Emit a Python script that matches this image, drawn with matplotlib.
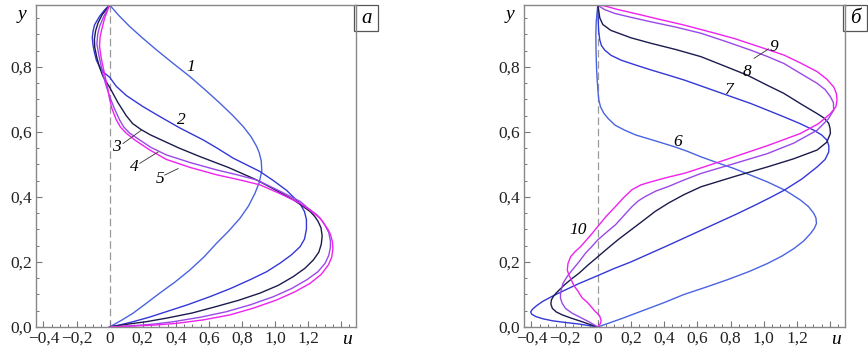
import matplotlib
matplotlib.use("Agg")
import matplotlib.pyplot as plt
from matplotlib.ticker import MultipleLocator, FuncFormatter
from matplotlib.patches import Rectangle
import matplotlib.transforms as mtransforms

plt.rcParams['font.family'] = ['Liberation Serif', 'DejaVu Serif']

# Panel a: velocity profiles u(y), curves 1-5
u1 = [0, 0.07, 0.141, 0.22, 0.303, 0.395, 0.485, 0.57, 0.646, 0.72, 0.788, 0.84, 0.879, 0.905, 0.92,
      0.917, 0.905, 0.889, 0.855, 0.808, 0.745, 0.667, 0.58, 0.485, 0.385, 0.283, 0.2, 0.121, 0.055, 0]
y1 = [0, 0.02, 0.042, 0.072, 0.104, 0.138, 0.175, 0.215, 0.257, 0.295, 0.334, 0.372, 0.411, 0.445, 0.48,
      0.51, 0.535, 0.555, 0.585, 0.616, 0.65, 0.688, 0.728, 0.77, 0.81, 0.852, 0.888, 0.924, 0.958, 0.99]

u2 = [0, 0.06, 0.141, 0.24, 0.343, 0.47, 0.606, 0.73, 0.848, 0.95, 1.03, 1.1, 1.152, 1.178, 1.19, 1.19,
      1.178, 1.15, 1.11, 1.07, 0.99, 0.909, 0.83, 0.747, 0.656, 0.566, 0.424, 0.3, 0.2, 0.1, 0.04,
      0, -0.035, -0.061, -0.08, -0.091, -0.1, -0.105, -0.1, -0.091, -0.061, -0.03, 0]
y2 = [0, 0.006, 0.016, 0.03, 0.047, 0.068, 0.093, 0.118, 0.145, 0.17, 0.196, 0.222, 0.247, 0.27, 0.3, 0.33,
      0.355, 0.38, 0.40, 0.42, 0.45, 0.478, 0.498, 0.519, 0.548, 0.575, 0.612, 0.648, 0.678, 0.712, 0.74,
      0.768, 0.782, 0.801, 0.82, 0.842, 0.865, 0.89, 0.91, 0.929, 0.955, 0.975, 0.99]

u3 = [0, 0.1, 0.22, 0.343, 0.5, 0.646, 0.78, 0.909, 1.02, 1.111, 1.18, 1.232, 1.265, 1.28, 1.285, 1.278,
      1.26, 1.24, 1.212, 1.16, 1.111, 1.0, 0.889, 0.72, 0.545, 0.42, 0.313, 0.245, 0.19, 0.14, 0.1, 0.05,
      0, -0.04, -0.062, -0.078, -0.09, -0.092, -0.085, -0.07, -0.045, 0]
y3 = [0, 0.008, 0.016, 0.027, 0.043, 0.063, 0.082, 0.104, 0.128, 0.155, 0.18, 0.206, 0.23, 0.255, 0.28, 0.305,
      0.325, 0.34, 0.355, 0.374, 0.391, 0.422, 0.452, 0.49, 0.524, 0.55, 0.575, 0.591, 0.607, 0.625, 0.65, 0.69,
      0.737, 0.77, 0.8, 0.83, 0.86, 0.885, 0.91, 0.935, 0.96, 0.99]

u4 = [0, 0.15, 0.27, 0.384, 0.55, 0.707, 0.85, 0.99, 1.1, 1.192, 1.26, 1.303, 1.325, 1.335, 1.335, 1.325,
      1.30, 1.28, 1.253, 1.2, 1.152, 1.02, 0.889, 0.77, 0.646, 0.49, 0.343, 0.25, 0.182, 0.121, 0.085, 0.06,
      0.03, 0, -0.02, -0.037, -0.05, -0.065, -0.077, -0.072, -0.06, -0.035, 0]
y4 = [0, 0.004, 0.009, 0.016, 0.03, 0.047, 0.068, 0.093, 0.118, 0.145, 0.17, 0.196, 0.22, 0.245, 0.265, 0.29,
      0.315, 0.33, 0.345, 0.365, 0.386, 0.42, 0.452, 0.468, 0.483, 0.505, 0.529, 0.552, 0.575, 0.596, 0.615, 0.637,
      0.67, 0.709, 0.74, 0.77, 0.80, 0.835, 0.87, 0.9, 0.925, 0.955, 0.99]

u5 = [0, 0.15, 0.28, 0.404, 0.57, 0.727, 0.87, 1.01, 1.12, 1.212, 1.28, 1.323, 1.343, 1.35, 1.347, 1.335,
      1.32, 1.273, 1.21, 1.152, 1.03, 0.909, 0.78, 0.646, 0.49, 0.343, 0.24, 0.152, 0.1, 0.065, 0.04, 0.015,
      0, -0.01, -0.025, -0.04, -0.052, -0.061, -0.058, -0.05, -0.03, 0]
y5 = [0, 0.003, 0.006, 0.011, 0.022, 0.037, 0.058, 0.083, 0.108, 0.134, 0.162, 0.191, 0.215, 0.24, 0.262, 0.285,
      0.30, 0.334, 0.36, 0.38, 0.41, 0.437, 0.453, 0.468, 0.49, 0.515, 0.545, 0.575, 0.596, 0.615, 0.637, 0.67,
      0.70, 0.73, 0.765, 0.80, 0.83, 0.863, 0.89, 0.91, 0.95, 0.99]

# Panel b: curves 6-10
u6 = [0, 0.14, 0.27, 0.4, 0.52, 0.65, 0.78, 0.91, 1.022, 1.11, 1.182, 1.24, 1.282, 1.305, 1.318, 1.315,
      1.302, 1.27, 1.222, 1.13, 1.022, 0.92, 0.822, 0.72, 0.622, 0.54, 0.462, 0.38, 0.302, 0.23, 0.162,
      0.105, 0.062, 0.035, 0.016, 0.006, 0.002, -0.004, -0.008, -0.011, -0.012, -0.01, -0.006, 0]
y6 = [0, 0.025, 0.05, 0.075, 0.1, 0.122, 0.145, 0.17, 0.195, 0.218, 0.241, 0.264, 0.287, 0.303, 0.318, 0.335,
      0.349, 0.37, 0.39, 0.42, 0.446, 0.467, 0.487, 0.505, 0.523, 0.54, 0.554, 0.567, 0.579, 0.59, 0.605,
      0.62, 0.641, 0.658, 0.677, 0.698, 0.718, 0.76, 0.8, 0.85, 0.9, 0.935, 0.96, 0.99]

u7 = [0, -0.114, -0.2, -0.274, -0.33, -0.374, -0.398, -0.405, -0.395, -0.37, -0.334, -0.28, -0.22, -0.12,
      0, 0.1, 0.2, 0.31, 0.42, 0.57, 0.72, 0.84, 0.95, 1.04, 1.122, 1.23, 1.322, 1.37, 1.392, 1.393, 1.382,
      1.35, 1.302, 1.22, 1.122, 1.02, 0.922, 0.822, 0.722, 0.622, 0.522, 0.42, 0.322, 0.23, 0.142, 0.08,
      0.042, 0.022, 0.012, 0.005, 0.002, 0]
y7 = [0, 0.009, 0.014, 0.019, 0.025, 0.032, 0.039, 0.046, 0.054, 0.065, 0.078, 0.093, 0.108, 0.132,
      0.158, 0.18, 0.2, 0.225, 0.25, 0.285, 0.32, 0.348, 0.375, 0.398, 0.42, 0.455, 0.492, 0.515, 0.538, 0.556, 0.574,
      0.59, 0.605, 0.625, 0.646, 0.667, 0.687, 0.705, 0.723, 0.741, 0.759, 0.775, 0.79, 0.805, 0.82, 0.835,
      0.851, 0.865, 0.882, 0.91, 0.944, 0.99]

u8 = [0, -0.05, -0.094, -0.16, -0.214, -0.25, -0.274, -0.283, -0.28, -0.268, -0.25, -0.2, -0.16, -0.114,
      -0.06, 0, 0.06, 0.126, 0.196, 0.266, 0.345, 0.426, 0.52, 0.622, 0.82, 1.022, 1.18, 1.322, 1.38, 1.402,
      1.4, 1.392, 1.365, 1.322, 1.22, 1.122, 1.01, 0.902, 0.76, 0.622, 0.47, 0.322, 0.2, 0.078, 0.03, 0.012, 0]
y8 = [0, 0.008, 0.016, 0.027, 0.037, 0.046, 0.057, 0.07, 0.083, 0.094, 0.105, 0.13, 0.147, 0.165,
      0.19, 0.216, 0.242, 0.27, 0.297, 0.324, 0.355, 0.381, 0.407, 0.431, 0.462, 0.492, 0.517, 0.544, 0.568, 0.595,
      0.61, 0.626, 0.642, 0.656, 0.687, 0.718, 0.746, 0.774, 0.803, 0.831, 0.853, 0.872, 0.889, 0.912, 0.93, 0.95, 0.99]

u9 = [0, -0.054, -0.1, -0.154, -0.195, -0.215, -0.225, -0.225, -0.22, -0.21, -0.185, -0.154, -0.114, -0.074,
      -0.035, 0, 0.05, 0.106, 0.156, 0.206, 0.245, 0.286, 0.35, 0.426, 0.52, 0.622, 0.82, 1.022, 1.18, 1.322,
      1.39, 1.422, 1.42, 1.402, 1.37, 1.322, 1.22, 1.122, 1.02, 0.922, 0.77, 0.622, 0.47, 0.322, 0.2, 0.102,
      0.04, 0.012, 0]
y9 = [0, 0.016, 0.028, 0.042, 0.057, 0.073, 0.088, 0.1, 0.115, 0.134, 0.155, 0.175, 0.2, 0.227,
      0.248, 0.268, 0.29, 0.314, 0.342, 0.37, 0.388, 0.401, 0.418, 0.432, 0.452, 0.472, 0.502, 0.533, 0.565, 0.605,
      0.64, 0.667, 0.69, 0.708, 0.73, 0.749, 0.78, 0.81, 0.832, 0.851, 0.878, 0.903, 0.922, 0.938, 0.952, 0.964,
      0.976, 0.985, 0.99]

u10 = [0, 0.015, 0.02, 0.01, -0.02, -0.06, -0.095, -0.12, -0.145, -0.16, -0.175, -0.184, -0.18, -0.164,
       -0.14, -0.104, -0.05, 0, 0.05, 0.106, 0.156, 0.206, 0.26, 0.326, 0.42, 0.526, 0.67, 0.822, 1.02, 1.222,
       1.33, 1.402, 1.435, 1.442, 1.438, 1.422, 1.38, 1.322, 1.22, 1.122, 0.97, 0.822, 0.67, 0.522, 0.37,
       0.222, 0.12, 0.042, 0]
y10 = [0, 0.01, 0.02, 0.035, 0.05, 0.074, 0.09, 0.11, 0.128, 0.145, 0.16, 0.175, 0.195, 0.216,
       0.23, 0.247, 0.278, 0.309, 0.34, 0.37, 0.398, 0.422, 0.437, 0.447, 0.46, 0.473, 0.497, 0.523, 0.557, 0.595,
       0.625, 0.656, 0.677, 0.697, 0.718, 0.738, 0.762, 0.785, 0.812, 0.836, 0.862, 0.887, 0.908, 0.928, 0.946,
       0.964, 0.976, 0.987, 0.99]

blue1 = '#4a63e0'
blue2 = '#3338d6'
navy = '#1b1b4d'
purple = '#9a48e8'
magenta = '#ee22ee'


def fmt_x(v, pos):
    if abs(v) < 1e-9:
        return '0'
    if v > 1.3:
        return ''
    return f'{v:.1f}'.replace('.', ',').replace('-', '\u2212')


def fmt_y(v, pos):
    return f'{v:.1f}'.replace('.', ',')


def setup_axes(ax, tag):
    ax.set_xlim(-0.445, 1.49)
    ax.set_ylim(0, 0.99)
    ax.xaxis.set_major_locator(MultipleLocator(0.2))
    ax.xaxis.set_minor_locator(MultipleLocator(0.05))
    ax.yaxis.set_major_locator(MultipleLocator(0.2))
    ax.yaxis.set_minor_locator(MultipleLocator(0.05))
    ax.xaxis.set_major_formatter(FuncFormatter(fmt_x))
    ax.yaxis.set_major_formatter(FuncFormatter(fmt_y))
    ax.tick_params(which='both', direction='in', color='#777777', labelsize=12.5, labelcolor='#222222')
    ax.tick_params(which='major', length=4, width=0.8, pad=3)
    ax.tick_params(which='minor', length=2.2, width=0.7)
    for s in ax.spines.values():
        s.set_color('#888888')
        s.set_linewidth(1.0)
    ax.axvline(0, color='#999999', lw=0.9, ls=(0, (6, 3)), zorder=1)
    trans = mtransforms.blended_transform_factory(ax.transData, ax.transAxes)
    ax.text(1.435, -0.04, 'u', transform=trans, ha='center', va='center', fontsize=14, style='italic')
    ax.text(-0.045, 0.97, 'y', transform=ax.transAxes, ha='center', va='center', fontsize=14, style='italic')
    ax.add_patch(Rectangle((0.994, 0.92), 0.075, 0.08, transform=ax.transAxes, fill=False,
                           edgecolor='#555555', lw=0.9, clip_on=False))
    ax.text(0.994 + 0.0375, 0.958, tag, transform=ax.transAxes, ha='center', va='center',
            fontsize=15, style='italic')


fig = plt.figure(figsize=(8.68, 3.55), dpi=100)
ax_a = fig.add_axes([0.0415, 0.079, 0.3687, 0.907])
ax_b = fig.add_axes([0.6037, 0.079, 0.3698, 0.907])

lw = 1.0
ax_a.plot(u1, y1, color=blue1, lw=lw)
ax_a.plot(u2, y2, color=blue2, lw=lw)
ax_a.plot(u3, y3, color=navy, lw=lw)
ax_a.plot(u4, y4, color=purple, lw=lw)
ax_a.plot(u5, y5, color=magenta, lw=lw)
setup_axes(ax_a, '\u0430')

lab = dict(fontsize=12.5, style='italic', ha='center', va='center')
lead = dict(color='#333333', lw=0.6)
ax_a.text(0.49, 0.80, '1', **lab)
ax_a.text(0.434, 0.636, '2', **lab)
ax_a.text(0.04, 0.554, '3', **lab)
ax_a.plot([0.081, 0.192], [0.564, 0.605], **lead)
ax_a.text(0.152, 0.492, '4', **lab)
ax_a.plot([0.182, 0.293], [0.503, 0.538], **lead)
ax_a.text(0.303, 0.456, '5', **lab)
ax_a.plot([0.333, 0.414], [0.467, 0.487], **lead)

ax_b.plot(u6, y6, color=blue1, lw=lw)
ax_b.plot(u7, y7, color=blue2, lw=lw)
ax_b.plot(u8, y8, color=navy, lw=lw)
ax_b.plot(u9, y9, color=purple, lw=lw)
ax_b.plot(u10, y10, color=magenta, lw=lw)
setup_axes(ax_b, '\u0431')

ax_b.text(0.482, 0.569, '6', **lab)
ax_b.text(0.792, 0.728, '7', **lab)
ax_b.text(0.902, 0.785, '8', **lab)
ax_b.text(1.06, 0.862, '9', **lab)
ax_b.plot([0.942, 1.03], [0.826, 0.855], **lead)
ax_b.text(-0.118, 0.297, '10', **lab)

fig.savefig('out.png', dpi=100)
